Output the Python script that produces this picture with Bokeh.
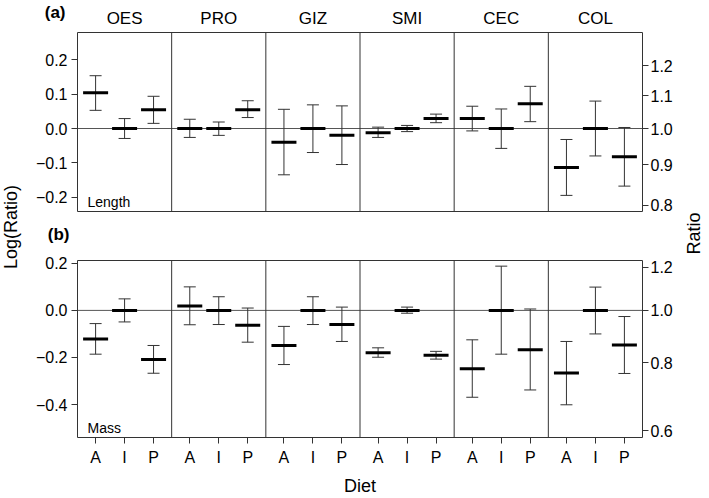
import math
from bokeh.plotting import figure
from bokeh.models import (ColumnDataSource, Whisker, TeeHead, Span, Label,
                          LinearAxis, FixedTicker, Range1d)
from bokeh.layouts import row, column
from bokeh.embed import file_html
from bokeh.resources import INLINE

# ---------------- data ----------------
tissues = ["OES", "PRO", "GIZ", "SMI", "CEC", "COL"]
diets = ["A", "I", "P"]

# Length (log ratio), order: tissue x diet (A, I, P)
length_mean = [0.104, 0.0, 0.055, 0.0, 0.0, 0.055, -0.040, 0.0, -0.020,
               -0.012, 0.0, 0.029, 0.029, 0.0, 0.072, -0.114, 0.0, -0.082]
length_lower = [0.053, -0.029, 0.015, -0.026, -0.020, 0.032, -0.135, -0.070, -0.105,
                -0.026, -0.009, 0.017, -0.007, -0.058, 0.020, -0.195, -0.080, -0.168]
length_upper = [0.154, 0.029, 0.094, 0.027, 0.019, 0.081, 0.056, 0.069, 0.066,
                0.004, 0.009, 0.042, 0.065, 0.057, 0.123, -0.032, 0.080, 0.003]

# Mass (log ratio)
mass_mean = [-0.121, 0.0, -0.209, 0.019, 0.0, -0.063, -0.149, 0.0, -0.060,
             -0.180, 0.0, -0.191, -0.248, 0.0, -0.167, -0.266, 0.0, -0.147]
mass_lower = [-0.186, -0.049, -0.267, -0.061, -0.060, -0.135, -0.230, -0.060, -0.132,
              -0.199, -0.012, -0.207, -0.369, -0.186, -0.338, -0.401, -0.100, -0.268]
mass_upper = [-0.056, 0.049, -0.149, 0.100, 0.058, 0.010, -0.068, 0.058, 0.014,
              -0.159, 0.014, -0.174, -0.125, 0.188, 0.006, -0.132, 0.099, -0.026]

length_log_ticks = [-0.2, -0.1, 0.0, 0.1, 0.2]
length_ratio_ticks = [0.8, 0.9, 1.0, 1.1, 1.2]
mass_log_ticks = [-0.4, -0.2, 0.0, 0.2]
mass_ratio_ticks = [0.6, 0.8, 1.0, 1.2]

# ---------------- layout constants ----------------
PW = 3.25          # width of one tissue panel in x units
X0 = 0.375
XEND = X0 + PW * len(tissues)
FONT = "Liberation Sans"
DARK = "#333333"

LEFT_W = 32
MID_W = 643
RIGHT_W = 34
FRAME_W = 569
MB_LEFT = 43
MB_RIGHT = MID_W - MB_LEFT - FRAME_W

xs = [k * PW + j + 1 for k in range(len(tissues)) for j in range(len(diets))]
xlabels = [d for _ in tissues for d in diets]
centers = [k * PW + 2 for k in range(len(tissues))]
separators = [k * PW + X0 for k in range(1, len(tissues))]


def fmt_log(v):
    return f"{v:.1f}".replace("-", "\u2212")


def style_axis(ax, out=6, standoff=4):
    ax.major_tick_out = out
    ax.major_tick_in = 0
    ax.minor_tick_line_color = None
    ax.axis_line_color = None
    ax.major_tick_line_color = DARK
    ax.major_label_text_font = FONT
    ax.major_label_text_font_size = "16px"
    ax.major_label_text_color = "black"
    ax.major_label_standoff = standoff


def make_panel(mean, lower, upper, yr, lticks, rticks, height, mbt, mbb, with_x):
    p = figure(width=MID_W, height=height, x_range=Range1d(X0, XEND),
               y_range=yr, output_backend="svg", toolbar_location=None,
               min_border_left=MB_LEFT, min_border_right=MB_RIGHT, min_border_top=mbt,
               min_border_bottom=mbb, x_axis_location="below" if with_x else None)
    p.grid.visible = False
    p.outline_line_color = DARK
    p.outline_line_width = 1
    p.background_fill_color = "white"
    p.border_fill_color = "white"

    ly = p.yaxis[0]
    ly.ticker = FixedTicker(ticks=lticks)
    ly.major_label_overrides = {v: fmt_log(v) for v in lticks}
    style_axis(ly, 6, 4)

    ry = LinearAxis(ticker=FixedTicker(ticks=[math.log(r) for r in rticks]),
                    major_label_overrides={math.log(r): f"{r:.1f}" for r in rticks})
    style_axis(ry, 6, 2)
    p.add_layout(ry, "right")

    p.add_layout(Span(location=0, dimension="width", line_color="#555555",
                      line_width=1, level="underlay"))
    for s in separators:
        p.add_layout(Span(location=s, dimension="height", line_color=DARK,
                          line_width=1, level="underlay"))

    src = ColumnDataSource(dict(x=xs, mean=mean, lower=lower, upper=upper))
    w = Whisker(source=src, base="x", lower="lower", upper="upper", dimension="height",
                line_color=DARK, line_width=1, level="underlay",
                upper_head=TeeHead(size=12, line_color=DARK, line_width=1),
                lower_head=TeeHead(size=12, line_color=DARK, line_width=1))
    p.add_layout(w)
    p.scatter("x", "mean", source=src, marker="dash", size=25, line_width=3,
              line_color="black")
    return p


def lab(text, x, y, size, xu="screen", align="left", angle=0.0, baseline="alphabetic"):
    return Label(x=x, y=y, x_units=xu, y_units="screen", text=text, angle=angle,
                 text_align=align, text_baseline=baseline, text_font=FONT,
                 text_font_size=size, text_color="black")


def side_strip(width, height):
    f = figure(width=width, height=height, x_range=Range1d(0, width),
               y_range=Range1d(0, height), output_backend="svg",
               toolbar_location=None, min_border=0,
               x_axis_location=None, y_axis_location=None)
    f.outline_line_color = None
    f.grid.visible = False
    f.background_fill_color = "white"
    f.border_fill_color = "white"
    return f


def band(height, tag, tag_y, tag_standoff):
    """Strip aligned with the panels; panel tag such as (a) drawn as its left-axis label."""
    f = figure(width=MID_W, height=height, x_range=Range1d(X0, XEND),
               y_range=Range1d(0, height), output_backend="svg",
               toolbar_location=None, min_border_left=MB_LEFT,
               min_border_right=MB_RIGHT, min_border_top=0, min_border_bottom=0,
               x_axis_location=None)
    f.outline_line_color = None
    f.grid.visible = False
    f.background_fill_color = "white"
    f.border_fill_color = "white"
    ax = f.yaxis[0]
    ax.ticker = FixedTicker(ticks=[tag_y])
    ax.major_label_overrides = {tag_y: tag}
    ax.major_tick_line_color = None
    ax.minor_tick_line_color = None
    ax.axis_line_color = None
    ax.major_tick_out = 0
    ax.major_tick_in = 0
    ax.major_label_standoff = tag_standoff
    ax.major_label_text_font = FONT
    ax.major_label_text_font_size = "17px"
    ax.major_label_text_font_style = "bold"
    ax.major_label_text_color = "black"
    return f


# header band: column titles and "(a)"
header = band(30, "(a)", 18, 12)
for k, t in enumerate(tissues):
    header.add_layout(lab(t, centers[k], 12, "17px", xu="data", align="center"))

p1 = make_panel(length_mean, length_lower, length_upper, Range1d(-0.242, 0.280),
                length_log_ticks, length_ratio_ticks, 190, 2, 9, False)
p1.add_layout(lab("Length", 10, 9.5, "14px"))

mid = band(32, "(b)", 18, 8)

p2 = make_panel(mass_mean, mass_lower, mass_upper, Range1d(-0.540, 0.212),
                mass_log_ticks, mass_ratio_ticks, 246, 8, 58, True)
p2.add_layout(lab("Mass", 10, 9.5, "14px"))

bx = p2.xaxis[0]
bx.ticker = FixedTicker(ticks=xs)
bx.major_label_overrides = {x: l for x, l in zip(xs, xlabels)}
style_axis(bx, 6, 5)
bx.axis_label = "Diet"
bx.axis_label_text_font = FONT
bx.axis_label_text_font_size = "18px"
bx.axis_label_text_font_style = "normal"
bx.axis_label_text_color = "black"
bx.axis_label_standoff = 7

TOTAL_H = 30 + 190 + 32 + 246
left = side_strip(LEFT_W, TOTAL_H)
left.add_layout(lab("Log(Ratio)", 10, TOTAL_H - 226.5, "18px", align="center",
                    angle=math.pi / 2, baseline="middle"))
right = side_strip(RIGHT_W, TOTAL_H)
right.add_layout(lab("Ratio", 18, TOTAL_H - 233, "18px", align="center",
                     angle=math.pi / 2, baseline="middle"))

layout = row(left, column(header, p1, mid, p2), right)

with open("out.html", "w") as fh:
    fh.write(file_html(layout, INLINE))
